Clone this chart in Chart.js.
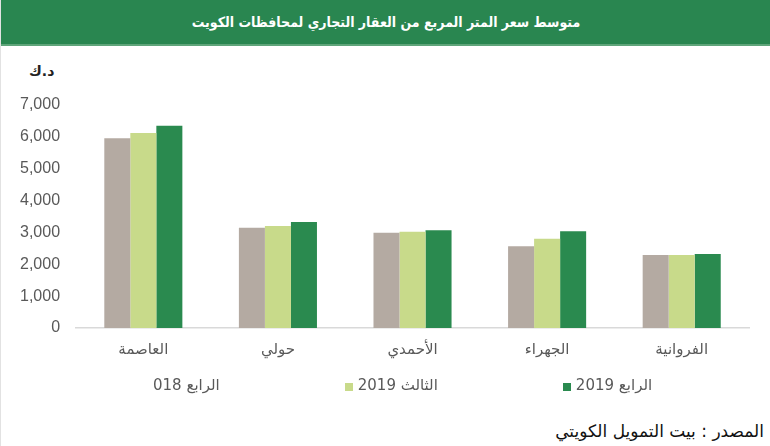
<!DOCTYPE html>
<html>
<head>
<meta charset="utf-8">
<script src="https://cdn.jsdelivr.net/npm/chart.js@4.4.0/dist/chart.umd.min.js"></script>
<style>
  body { margin: 0; background: #fff; font-family: "DejaVu Sans", "Liberation Sans", sans-serif; }
  #page { position: relative; width: 770px; height: 446px; overflow: hidden; border-left: 1px solid #e2e2e2; box-sizing: border-box; }
  #head { position: absolute; left: 0; top: 0; width: 770px; height: 44px; background: #298650; border-bottom: 2px solid #5fa57a;
          color: #fff; font-family: "DejaVu Sans Condensed", "DejaVu Sans", sans-serif; font-weight: bold; font-size: 14px;
          line-height: 44px; text-align: center; direction: rtl; }
  #unit { position: absolute; left: 28px; top: 63px; font-size: 14px; font-weight: bold; color: #222; direction: rtl; }
  #box { position: absolute; left: 0; top: 45px; width: 770px; height: 333px; }
  #legend { position: absolute; left: 139px; top: 376px; display: flex; gap: 125px; color: #595959; font-size: 15px; }
  #legend span.item { display: flex; align-items: center; }
  #legend i { display: inline-block; width: 8px; height: 8px; margin-right: 5px; margin-top: 3px; }
  #legend b { font-weight: normal; direction: rtl; unicode-bidi: isolate; }
  #src { position: absolute; right: 6px; top: 421px; font-size: 17px; color: #111; direction: rtl; }
</style>
</head>
<body>
<div id="page">
  <div id="head">متوسط سعر المتر المربع من العقار التجاري لمحافظات الكويت</div>
  <div id="unit">د.ك</div>
  <div id="box"><canvas id="chart"></canvas></div>
  <div id="legend"></div>
  <div id="src">المصدر : بيت التمويل الكويتي</div>
</div>
<script>
  "use strict";
  var governorates = ["العاصمة", "حولي", "الأحمدي", "الجهراء", "الفروانية"];
  var seriesNames = ["الرابع 018", "الثالث 2019", "الرابع 2019"];
  var q4_2018 = [5960, 3150, 2990, 2570, 2290];
  var q3_2019 = [6120, 3200, 3020, 2800, 2290];
  var q4_2019 = [6350, 3330, 3070, 3040, 2320];
  var colors = ['#b4aaa2', '#c8da8a', '#2a8a4f'];

  var ctx = document.getElementById("chart");
  var chart = new Chart(ctx, {
    type: "bar",
    data: {
      labels: governorates,
      datasets: [{
        label: seriesNames[0],
        backgroundColor: colors[0],
        borderWidth: 0,
        data: q4_2018
      },
      {
        label: seriesNames[1],
        backgroundColor: colors[1],
        borderWidth: 0,
        data: q3_2019
      },
      {
        label: seriesNames[2],
        backgroundColor: colors[2],
        borderWidth: 0,
        data: q4_2019
      }],
    },
    options: {
      responsive: true,
      maintainAspectRatio: false,
      animation: false,
      datasets: {
        bar: { categoryPercentage: 0.58, barPercentage: 1 }
      },
      layout: {
        padding: { top: 60, left: 3, right: 22, bottom: 6 }
      },
      plugins: {
        tooltip: { enabled: false },
        legend: { display: false }
      },
      scales: {
        y: {
          min: 0,
          max: 7000,
          border: { display: false },
          grid: { display: false, drawTicks: false },
          ticks: {
            stepSize: 1000,
            padding: 16,
            color: '#595959',
            font: { family: "Liberation Sans", size: 16 },
            callback: function (v) { return v.toLocaleString('en-US'); }
          }
        },
        x: {
          border: { display: true, color: '#d9d9d9', width: 1.5 },
          grid: { display: false, drawTicks: false },
          ticks: {
            padding: 13,
            color: '#595959',
            font: { family: "DejaVu Sans", size: 15 }
          }
        },
      },
    },
  });

  // legend built from the chart's datasets; first swatch is cut off in the source
  var leg = document.getElementById("legend");
  chart.data.datasets.forEach(function (ds, i) {
    var item = document.createElement("span");
    item.className = "item";
    var sw = document.createElement("i");
    sw.style.background = i === 0 ? 'transparent' : ds.backgroundColor;
    var txt = document.createElement("b");
    txt.textContent = ds.label;
    item.appendChild(sw);
    item.appendChild(txt);
    leg.appendChild(item);
  });
</script>
</body>
</html>
